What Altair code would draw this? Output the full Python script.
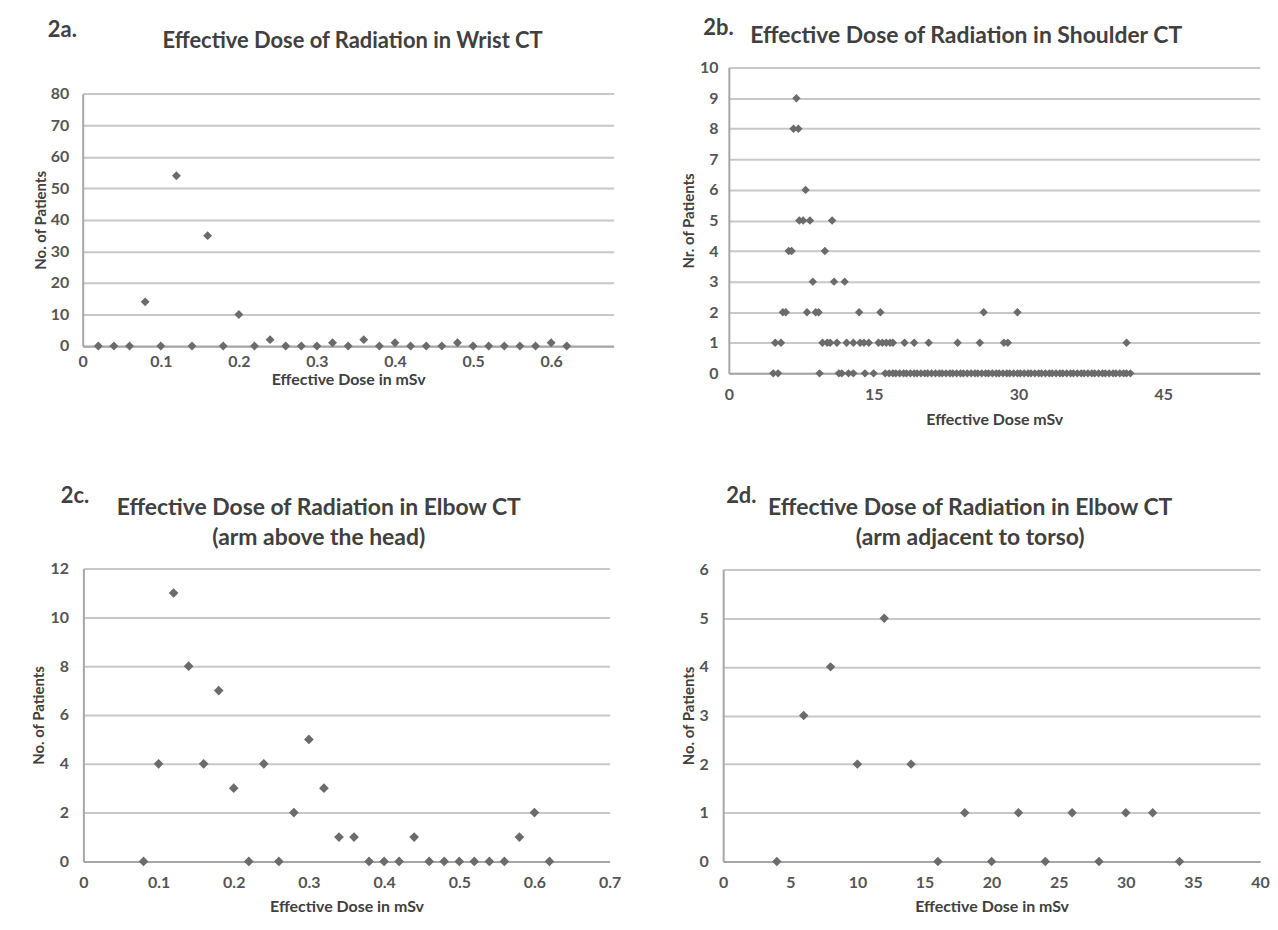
import altair as alt
import pandas as pd

FONT = "Lato"
W, H = 1262, 914
TXT = "#404040"
LAB = "#555555"
PT = "#6b6b6b"
GRID = "#c8c8c8"
AXC = "#a6a6a6"

# ---- 2a Wrist CT ----
a_dose = [0.02, 0.04, 0.06, 0.08, 0.10, 0.12, 0.14, 0.16, 0.18, 0.20, 0.22, 0.24, 0.26,
          0.28, 0.30, 0.32, 0.34, 0.36, 0.38, 0.40, 0.42, 0.44, 0.46, 0.48, 0.50, 0.52,
          0.54, 0.56, 0.58, 0.60, 0.62]
a_patients = [0, 0, 0, 14, 0, 54, 0, 35, 0, 10, 0, 2, 0, 0, 0, 1, 0, 2, 0, 1, 0, 0, 0, 1,
              0, 0, 0, 0, 0, 1, 0]
a_xticks = [0, 0.1, 0.2, 0.3, 0.4, 0.5, 0.6]
a_yticks = [0, 10, 20, 30, 40, 50, 60, 70, 80]

# ---- 2b Shoulder CT (doses grouped by number of patients) ----
b_at9 = [7.0]
b_at8 = [6.7, 7.2]
b_at6 = [7.95]
b_at5 = [7.3, 7.7, 8.4, 10.7]
b_at4 = [6.2, 6.5, 9.95]
b_at3 = [8.7, 10.9, 12.0]
b_at2 = [5.6, 5.9, 8.1, 9.0, 9.3, 13.5, 15.7, 26.4, 29.9]
b_at1 = [4.8, 5.4, 9.7, 10.2, 10.5, 11.2, 12.2, 12.9, 13.6, 14.0, 14.5, 15.5, 15.9, 16.3,
         16.7, 17.0, 18.2, 19.2, 20.7, 23.7, 26.0, 28.5, 28.9, 41.2]
b_at0 = [4.6, 5.1, 9.4, 11.4, 11.7, 12.4, 12.9, 14.1, 15.0, 16.2, 16.6, 17.0, 17.3, 17.7,
         18.1, 18.4, 18.8, 19.2, 19.5, 19.9, 20.3, 20.6, 21.0, 21.4, 21.8, 22.1, 22.5, 22.9,
         23.2, 23.6, 24.0, 24.3, 24.7, 25.1, 25.5, 25.8, 26.2, 26.6, 26.9, 27.3, 27.7, 28.0,
         28.4, 28.8, 29.1, 29.5, 29.9, 30.2, 30.6, 31.0, 31.3, 31.7, 32.1, 32.4, 32.8, 33.2,
         33.5, 33.9, 34.3, 34.6, 35.0, 35.4, 35.7, 36.1, 36.5, 36.8, 37.2, 37.6, 37.9, 38.3,
         38.7, 39.0, 39.4, 39.8, 40.1, 40.5, 40.9, 41.2, 41.6]
b_xticks = [0, 15, 30, 45]
b_yticks = [0, 1, 2, 3, 4, 5, 6, 7, 8, 9, 10]

# ---- 2c Elbow CT, arm above the head ----
c_dose = [0.08, 0.10, 0.12, 0.14, 0.16, 0.18, 0.20, 0.22, 0.24, 0.26, 0.28, 0.30, 0.32,
          0.34, 0.36, 0.38, 0.40, 0.42, 0.44, 0.46, 0.48, 0.50, 0.52, 0.54, 0.56, 0.58,
          0.60, 0.62]
c_patients = [0, 4, 11, 8, 4, 7, 3, 0, 4, 0, 2, 5, 3, 1, 1, 0, 0, 0, 1, 0, 0, 0, 0, 0, 0,
              1, 2, 0]
c_xticks = [0, 0.1, 0.2, 0.3, 0.4, 0.5, 0.6, 0.7]
c_yticks = [0, 2, 4, 6, 8, 10, 12]

# ---- 2d Elbow CT, arm adjacent to torso ----
d_dose = [4, 6, 8, 10, 12, 14, 16, 18, 20, 22, 24, 26, 28, 30, 32, 34]
d_patients = [0, 3, 4, 2, 5, 2, 0, 1, 0, 1, 0, 1, 0, 1, 1, 0]
d_xticks = [0, 5, 10, 15, 20, 25, 30, 35, 40]
d_yticks = [0, 1, 2, 3, 4, 5, 6]

df_a = pd.DataFrame({"dose": a_dose, "patients": a_patients})
b_rows = []
for cnt, lst in [(9, b_at9), (8, b_at8), (6, b_at6), (5, b_at5), (4, b_at4), (3, b_at3),
                 (2, b_at2), (1, b_at1), (0, b_at0)]:
    for v in lst:
        b_rows.append({"dose": v, "patients": cnt})
df_b = pd.DataFrame(b_rows)
df_c = pd.DataFrame({"dose": c_dose, "patients": c_patients})
df_d = pd.DataFrame({"dose": d_dose, "patients": d_patients})


def panel(df, xdom, xrng, xticks, ydom, yrng, yticks, xtitle, ytitle, size,
          xtpad=8, ytpad=4, ylpad=14, xlpad=13):
    return alt.Chart(df).mark_point(
        shape="diamond", filled=True, size=size, color=PT, opacity=1
    ).encode(
        x=alt.X("dose:Q",
                scale=alt.Scale(domain=xdom, range=xrng, nice=False, zero=False),
                axis=alt.Axis(orient="bottom", offset=yrng[0] - H, values=xticks,
                              format=".2~f", grid=False, ticks=False,
                              domainColor=AXC, domainWidth=2,
                              labelFont=FONT, labelFontSize=16, labelFontWeight="bold",
                              labelColor=LAB, labelPadding=xlpad, labelFlush=False,
                              title=xtitle, titleFont=FONT, titleFontSize=16,
                              titleFontWeight="bold", titleColor=TXT,
                              titlePadding=xtpad)),
        y=alt.Y("patients:Q",
                scale=alt.Scale(domain=ydom, range=yrng, nice=False, zero=False),
                axis=alt.Axis(orient="left", offset=-xrng[0], values=yticks,
                              format="d", grid=True, gridColor=GRID, gridWidth=2,
                              ticks=False, domainColor=AXC, domainWidth=2,
                              labelFont=FONT, labelFontSize=16, labelFontWeight="bold",
                              labelColor=LAB, labelPadding=ylpad, labelFlush=False,
                              title=ytitle, titleFont=FONT, titleFontSize=15,
                              titleFontWeight="bold", titleColor=TXT,
                              titlePadding=ytpad)),
    )


def label(text, x, y, size, align="center"):
    return alt.Chart(pd.DataFrame({"k": [0]})).mark_text(
        text=text, font=FONT, fontSize=size, fontWeight="bold", color=TXT,
        align=align, baseline="middle"
    ).encode(x=alt.value(x), y=alt.value(y))


pa = panel(df_a, [0, 0.68], [75, 608], a_xticks, [0, 80], [337.5, 84.3], a_yticks,
           "Effective Dose in mSv", "No. of Patients", 80, xtpad=2, ytpad=2, ylpad=14,
           xlpad=8)
pb = panel(df_b, [0, 55], [723.7, 1256.7], b_xticks, [0, 10], [365, 58], b_yticks,
           "Effective Dose mSv", "Nr. of Patients", 72, xtpad=9, ytpad=3, ylpad=11)
pc = panel(df_c, [0, 0.7], [75.7, 604], c_xticks, [0, 12], [855, 561], c_yticks,
           "Effective Dose in mSv", "No. of Patients", 95, xtpad=8, ytpad=3, ylpad=15)
pd_ = panel(df_d, [0, 40], [718, 1257], d_xticks, [0, 6], [855, 562], d_yticks,
            "Effective Dose in mSv", "No. of Patients", 90, xtpad=8, ytpad=3, ylpad=15)

texts = [
    label("2a.", 40, 20, 22, "left"),
    label("Effective Dose of Radiation in Wrist CT", 346, 31, 22),
    label("2b.", 698, 18, 22, "left"),
    label("Effective Dose of Radiation in Shoulder CT", 962, 26, 23),
    label("2c.", 53, 488, 22, "left"),
    label("Effective Dose of Radiation in Elbow CT", 312, 500, 23),
    label("(arm above the head)", 312, 530, 23),
    label("2d.", 721, 488, 22, "left"),
    label("Effective Dose of Radiation in Elbow CT", 966, 500, 23),
    label("(arm adjacent to torso)", 966, 530, 23),
]

chart = alt.layer(pa, pb, pc, pd_, *texts).resolve_scale(
    x="independent", y="independent"
).resolve_axis(
    x="independent", y="independent"
).properties(
    width=W, height=H, padding=0, background="white"
).configure_view(stroke=None)

chart.save("out.html", embed_options={"renderer": "svg", "actions": False})
